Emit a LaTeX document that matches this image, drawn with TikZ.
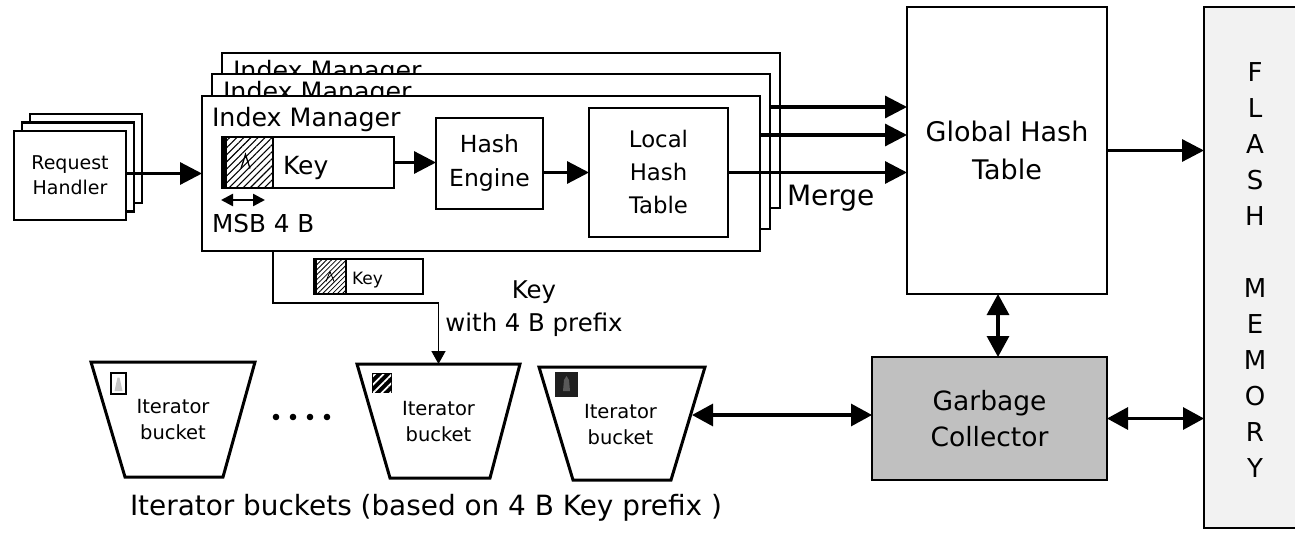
\documentclass[tikz,border=0pt]{standalone}
\usepackage{fontspec}
\setmainfont{DejaVu Sans}
\usetikzlibrary{arrows.meta,patterns.meta,calc}
\definecolor{gcgray}{HTML}{C0C0C0}
\definecolor{flashgray}{HTML}{F2F2F2}

\begin{document}
\begin{tikzpicture}[x=1pt,y=-1pt,
  box/.style={draw,line width=2.8pt,fill=white,inner sep=0pt,outer sep=0pt,anchor=north west},
  lbl/.style={inner sep=0pt,outer sep=0pt},
  arr/.style={line width=3.2pt,-{Triangle[length=22pt,width=22pt]}},
  darr/.style={line width=3.2pt,{Triangle[length=21pt,width=22pt]}-{Triangle[length=21pt,width=22pt]}},
  thinarr/.style={line width=1.6pt,-{Triangle[length=13pt,width=14pt]}},
  hatch/.style={pattern={Lines[angle=45,distance=5pt,line width=1.1pt]}},
  finehatch/.style={pattern={Lines[angle=45,distance=3.5pt,line width=0.8pt]}},
  bucket/.style={draw,line width=3pt,fill=white,line join=miter},
  bktext/.style={lbl,align=center,font=\fontsize{19.5}{26}\selectfont},
  imtitle/.style={lbl,anchor=base west,font=\fontsize{25.3}{30}\selectfont}
]
\useasboundingbox (0,0) rectangle (1295,537);

% ---- request handlers (stacked) ----
\node[box,minimum width=112pt,minimum height=89pt] (rh3) at (30,114) {};
\node[box,minimum width=112pt,minimum height=89pt] (rh2) at (22,122.5) {};
\node[box,minimum width=112pt,minimum height=89pt,align=center,
      font=\fontsize{19}{25}\selectfont] (rh1) at (14,131) {Request\\Handler};

% ---- index managers (stacked); the rear titles are partly covered ----
\node[box,minimum width=558pt,minimum height=155pt] (im3) at (222,53) {};
\begin{scope}
\clip (im3.north west) rectangle ($(im3.north east)+(0,20)$);
\node[imtitle] (t3) at (233,80) {Index Manager};
\end{scope}
\node[box,minimum width=558pt,minimum height=155pt] (im2) at (212,74) {};
\begin{scope}
\clip (im2.north west) rectangle ($(im2.north east)+(0,21)$);
\node[imtitle] (t2) at (223,101) {Index Manager};
\end{scope}
\node[box,minimum width=558pt,minimum height=155pt] (im1) at (202,96) {};
\node[imtitle] (t1) at (212,127) {Index Manager};

% key with its 4 B prefix
\node[draw,line width=2.5pt,hatch,anchor=north west,inner sep=0pt,outer sep=0pt,
      minimum width=51pt,minimum height=51pt] (kh) at (222,137) {};
\fill (kh.north west) rectangle ($(kh.south west)+(4.5,0)$);
\draw[line width=1.3pt] ($(kh.center)+(-6.5,6)$) -- ($(kh.center)+(-2,-8)$) -- ($(kh.center)+(2.5,6)$);
\node[box,line width=2.5pt,minimum width=121pt,minimum height=51pt] (kb) at (273,137) {};
\node[lbl,anchor=base west,font=\fontsize{25}{30}\selectfont] (keytxt) at (283,175) {Key};
\draw[line width=2.5pt,{Triangle[length=12pt,width=12pt]}-{Triangle[length=12pt,width=12pt]}]
  ($(kh.south west)+(-1,12)$) -- ($(kh.south east)+(-8,12)$);
\node[lbl,anchor=base west,font=\fontsize{24.7}{29}\selectfont] (msb) at (212,233) {MSB 4 B};

\node[box,minimum width=107pt,minimum height=91pt,align=center,
      font=\fontsize{23.5}{34}\selectfont] (he) at (436,118) {Hash\\Engine};
\node[box,minimum width=139pt,minimum height=129pt,align=center,
      font=\fontsize{22.8}{33}\selectfont] (lht) at (589,108) {Local\\Hash\\Table};

\draw[arr] (rh1.east |- im1.west) -- (im1.west);
\draw[arr] (kb.east) -- (he.west |- kb.east);
\draw[arr] (he.east |- lht.west) -- (lht.west);

% ---- global hash table ----
\node[box,minimum width=200pt,minimum height=287pt,align=center,
      font=\fontsize{27}{38}\selectfont] (ght) at (907,7) {Global Hash\\Table};

\coordinate (m1) at ($(ght.north west)+(0,100)$);
\coordinate (m2) at ($(ght.north west)+(0,128)$);
\coordinate (m3) at (ght.west |- lht.east);
\draw[arr] (im2.east |- m1) -- (m1);
\draw[arr] (im1.east |- m2) -- (m2);
\draw[arr] (lht.east) -- (m3);
\node[lbl,anchor=base west,font=\fontsize{28}{32}\selectfont] (merge) at (787,206) {Merge};

% ---- flash memory ----
\begin{scope}
\clip (0,0) rectangle (1295,537);
\node[box,fill=flashgray,minimum width=110pt,minimum height=521pt] (flash) at (1204,7) {};
\end{scope}
\node[lbl,align=center,font=\fontsize{26}{36}\selectfont] (flashtxt) at (1255,270)
  {F\\L\\A\\S\\H\\\mbox{}\\M\\E\\M\\O\\R\\Y};
\draw[arr] (ght.east) -- (flash.west |- ght.east);

% ---- garbage collector ----
\node[box,fill=gcgray,minimum width=235pt,minimum height=123pt,align=center,
      font=\fontsize{26.5}{36}\selectfont] (gc) at (872,357) {Garbage\\Collector};
\coordinate (gv) at ($(ght.south)+(-9,0)$);
\draw[darr] (gv) -- (gv |- gc.north);
\draw[darr] (gc.east) -- (flash.west |- gc.east);

% ---- key forwarded to an iterator bucket ----
\node[draw,line width=1.4pt,finehatch,anchor=north west,inner sep=0pt,outer sep=0pt,
      minimum width=32pt,minimum height=35pt] (skh) at (314,259) {};
\fill (skh.north west) rectangle ($(skh.south west)+(3,0)$);
\draw[line width=0.9pt] ($(skh.center)+(-4,5)$) -- ($(skh.center)+(0,-5)$) -- ($(skh.center)+(4,5)$);
\node[box,line width=1.4pt,minimum width=77pt,minimum height=35pt] (skb) at (346,259) {};
\node[lbl,anchor=base west,font=\fontsize{17}{20}\selectfont] (skeytxt) at (352,284) {Key};
\node[lbl,align=center,font=\fontsize{24.4}{33}\selectfont] (kp) at (534,309) {Key\\with 4 B prefix};

% ---- iterator buckets ----
\draw[bucket] (91,362) -- (255,362) -- (223,477) -- (125,477) -- cycle;
\draw[bucket] (357,364) -- (520,364) -- (490,478) -- (390,478) -- cycle;
\draw[bucket] (539,367) -- (705,367) -- (671,480) -- (573,480) -- cycle;
\coordinate (b2top) at (438.5,364);
\coordinate (b3r) at (692,415);
\node[bktext] (b1) at (173,420) {Iterator\\bucket};
\node[bktext] (b2) at (438.5,422) {Iterator\\bucket};
\node[bktext] (b3) at (620.5,425) {Iterator\\bucket};

% prefix markers
\draw[line width=2.2pt,fill=white] (111,373) rectangle (126,394);
\fill[gray!45] (114.5,391) -- (117.5,377.5) -- (119.5,377.5) -- (122.5,391) -- cycle;
\fill[black] (372,373) rectangle (392,393);
\fill[pattern={Lines[angle=45,distance=6pt,line width=1.8pt]},pattern color=white] (373,374) rectangle (391,392);
\fill[black!88] (555,372) rectangle (578,397);
\fill[black!65] (564,380) -- (566.5,376) -- (569,380) -- (570,391) -- (563,391) -- cycle;

\foreach \x in {276,293,310,327} \fill (\x,417) circle (3.3);

\draw[thinarr] (im1.south -| kh.east) |- ($(b2top)+(0,-61)$) -- (b2top);
\draw[darr] (b3r) -- (gc.west |- b3r);

\node[lbl,anchor=base west,font=\fontsize{27.9}{32}\selectfont] (caption) at (130,515)
  {Iterator buckets (based on 4 B Key prefix )};
\end{tikzpicture}
\end{document}
